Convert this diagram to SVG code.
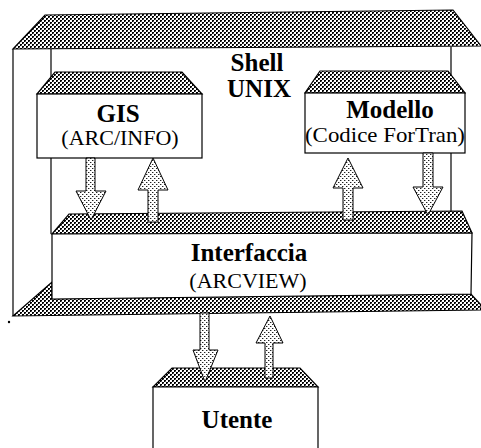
<svg xmlns="http://www.w3.org/2000/svg" width="481" height="448" viewBox="0 0 481 448">
<defs>
<pattern id="dk" width="4" height="4" patternUnits="userSpaceOnUse">
<rect width="4" height="4" fill="#fff"/>
<rect x="0" y="0" width="2" height="1" fill="#000"/>
<rect x="0" y="1" width="1" height="1" fill="#000"/>
<rect x="1" y="1" width="1" height="1" fill="#666"/>
<rect x="2" y="2" width="2" height="1" fill="#000"/>
<rect x="2" y="3" width="1" height="1" fill="#000"/>
<rect x="3" y="3" width="1" height="1" fill="#666"/>
</pattern>
<pattern id="lt" width="4" height="4" patternUnits="userSpaceOnUse">
<rect width="4" height="4" fill="#fff"/>
<rect x="0" y="0" width="1" height="1" fill="#222"/>
<rect x="2" y="2" width="1" height="1" fill="#222"/>
<rect x="1" y="0" width="1" height="1" fill="#aaa"/>
<rect x="3" y="2" width="1" height="1" fill="#aaa"/>
</pattern>
</defs>
<style>
.slab{fill:url(#dk);stroke:#000;stroke-width:1.2;stroke-linejoin:miter}
.box{fill:#fff;stroke:#000;stroke-width:1.2}
.ln{fill:none;stroke:#000;stroke-width:1.2}
.arr{fill:url(#lt);stroke:#000;stroke-width:1}
.t{font-family:"Liberation Serif","Times New Roman",serif;font-weight:bold;font-size:25px;fill:#000;text-anchor:middle}
.s{font-family:"Liberation Serif","Times New Roman",serif;font-size:22px;fill:#000;text-anchor:middle}
</style>

<g id="shell">
<polygon class="slab" points="45,15 453,10 481,46 13,49"/>
<line class="ln" x1="13" y1="49" x2="13" y2="316"/>
<line class="ln" x1="51" y1="49" x2="51" y2="234"/>
<line class="ln" x1="451" y1="47" x2="451" y2="212"/>
<polygon class="slab" points="13,316 52,282 52,299 471,294 481,305 481,310"/>
<text class="t" x="257" y="71">Shell</text>
<text class="t" x="259" y="97">UNIX</text>
<circle cx="9" cy="322" r="1.2" fill="#000"/>
</g>

<g id="gis">
<polygon class="slab" points="55,72 182,72 202,94 37,94"/>
<rect class="box" x="37" y="94" width="165" height="64"/>
<text class="t" x="118" y="122">GIS</text>
<text class="s" x="120" y="145">(ARC/INFO)</text>
</g>

<g id="modello">
<polygon class="slab" points="320,71 448,71 465,93 305,93"/>
<rect class="box" x="305" y="93" width="160" height="60"/>
<text class="t" x="390" y="118">Modello</text>
<text class="s" x="385" y="142" textLength="160" lengthAdjust="spacingAndGlyphs">(Codice ForTran)</text>
</g>

<g id="interfaccia">
<polygon class="slab" points="69,214 462,211 472,233 52,234"/>
<polygon class="box" points="52,234 472,233 471,294 52,299"/>
<text class="t" x="249" y="261">Interfaccia</text>
<text class="s" x="248" y="288">(ARCVIEW)</text>
</g>

<g id="utente">
<polygon class="slab" points="172,368 300,368 318,387 153,387"/>
<polyline class="box" points="153,448 153,387 318,387 318,448"/>
<text class="t" x="237" y="428">Utente</text>
</g>

<g id="connectors">
<polygon class="arr" points="86,158 95,158 95,191 106,191 91,220 76,191 86,191"/>
<polygon class="arr" points="153,158 168,190 158,190 158,222 148,222 148,190 138,190"/>
<polygon class="arr" points="348,158 363,188 353,188 353,220 343,220 343,188 333,188"/>
<polygon class="arr" points="423,153 433,153 433,187 443,187 428,215 413,187 423,187"/>
<polygon class="arr" points="200,313 209,313 209,350 218,350 205,382 193,350 200,350"/>
<polygon class="arr" points="270,316 283,343 273,343 273,378 265,378 265,343 256,343"/>
</g>
</svg>
